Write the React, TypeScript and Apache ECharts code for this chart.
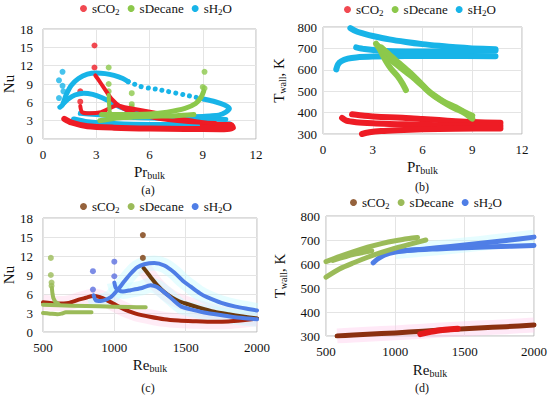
import React, { useEffect, useRef } from 'react';
import * as echarts from 'echarts';

const FONT = 'Liberation Serif';

// ---------- Panel (a): Nu vs Pr_bulk ----------
const aCO2Dots = [[2.9, 15.3], [2.9, 11.7], [2.1, 7.8], [2.1, 6.1]];
const aCO2Arm1 = [[2.95, 10.4], [3.1, 9.8], [3.47, 8.2], [3.85, 6.6], [4.4, 5.2], [5.17, 4.2], [6, 3.6], [7.05, 3.1], [8.2, 2.8], [9.7, 2.6]];
const aCO2Arm2 = [[2.1, 5.4], [2.2, 4.4], [2.6, 4.2], [3.28, 4.4], [3.8, 5.1], [4.13, 5.5], [4.6, 5.2], [5.55, 4.7], [7.05, 3.9], [8.2, 3.1], [8.9, 2.8], [9.7, 2.45]];
const aCO2Low = [[1.2, 3.3], [1.6, 2.7], [2.5, 2.1], [4, 1.85], [6, 1.7], [8, 1.65], [10, 1.6], [10.7, 1.8], [10.6, 2.3], [10, 2.35], [9, 2.4]];
const aDecDots = [[3.7, 11.7], [3.7, 9.0], [3.7, 7.8], [5.0, 7.5], [5.0, 5.7], [5.0, 5.2], [9.1, 11.0], [9.0, 8.5], [9.1, 8.3]];
const aDecArm = [[3.7, 7.2], [3.72, 5.8], [3.75, 4.6], [3.8, 4.0]];
const aDecBand1 = [[3.3, 4.0], [4.5, 4.0], [6, 4.1], [7, 4.4], [8, 5.0], [8.6, 5.8], [8.9, 6.8], [9.05, 7.8]];
const aDecBand2 = [[3.2, 3.0], [3.6, 3.2], [4.5, 3.5], [6, 3.7], [7.5, 3.8], [8.5, 4.0]];
const aH2ODots = [[1.1, 11.0], [0.9, 9.6], [1.1, 8.7], [1.15, 7.8], [0.9, 6.7]];
const aH2OUpper = [[0.95, 5.2], [1.1, 5.6], [1.3, 7.2], [1.6, 8.8], [2, 9.9], [2.5, 10.6], [3, 10.8], [3.5, 10.7], [4, 10.4], [4.5, 9.9], [4.8, 9.4]];
const aH2ODotted = [[4.8, 9.4], [5.5, 8.6], [6, 8.3], [6.5, 8.1], [7, 7.8], [7.5, 7.5], [8, 7.2], [8.5, 6.9], [9.1, 6.5]];
const aH2OLoop = [[9.1, 6.5], [9.7, 6.1], [10.2, 5.6], [10.5, 5.0], [10.3, 4.4], [9.9, 3.9], [9, 3.7], [8, 3.6], [7.4, 3.6]];
const aH2OSecond = [[1.15, 5.8], [1.4, 6.5], [1.8, 7.2], [2.3, 7.5], [2.8, 7.3], [3.3, 6.8], [3.8, 6.1], [4.3, 5.3], [5, 4.6], [6, 4.1], [7, 3.8], [8, 3.6], [9, 3.6], [9.8, 3.8]];
const aH2OBand1 = [[2.1, 4.2], [3, 4.0], [4, 3.8], [5.2, 3.5], [6.5, 3.4], [8, 3.3], [9.5, 3.3], [10.3, 3.2]];
const aH2OBand2 = [[1.74, 3.2], [2.5, 2.75], [4, 2.45], [6, 2.3], [8, 2.3], [10.5, 2.4]];

// ---------- Panel (b): T_wall vs Pr_bulk ----------
const bH2OTop = [[1.65, 795], [2, 780], [2.5, 768], [3, 758], [4, 742], [5, 730], [6, 720], [7, 712], [8, 705], [9, 700], [10.4, 696]];
const bH2OMid = [[2.0, 705], [2.5, 697], [3.5, 689], [5, 686], [7, 686], [9, 688], [10.4, 690]];
const bH2OLow = [[0.8, 602], [0.9, 625], [1.1, 640], [1.5, 652], [2, 658], [3, 662], [5, 665], [7, 665], [10.4, 663]];
const bDec1 = [[3.2, 722], [3.4, 700], [3.6, 670], [3.8, 640], [4.1, 605], [4.5, 570], [4.8, 535], [5.0, 505]];
const bDec2 = [[3.3, 712], [3.7, 680], [4.2, 640], [5, 590], [5.5, 560], [6, 525], [6.5, 490], [7, 462], [7.5, 438], [8, 418], [8.5, 400], [9, 372]];
const bDec3 = [[3.5, 705], [4, 670], [4.6, 630], [5.2, 590], [5.8, 545], [6.3, 505], [6.8, 475], [7.3, 450], [8, 425], [8.6, 400], [9, 385]];
const bCO2a = [[1.75, 392], [2.5, 385], [3, 382], [4, 378], [5, 375], [6, 370], [7, 365], [8, 360], [9, 356], [10.7, 352]];
const bCO2b = [[1.15, 375], [1.4, 362], [2, 355], [3, 350], [4, 347], [5, 345], [6, 343], [8, 340], [10.7, 338]];
const bCO2c = [[2.35, 300], [2.8, 308], [3.5, 314], [4.5, 318], [6, 322], [8, 325], [10.7, 326]];

// ---------- Panel (c): Nu vs Re_bulk ----------
const cCO2Dots = [[1200, 15.3], [1200, 11.7]];
const cCO2Arm = [[1205, 10.1], [1230, 9.4], [1260, 8.5], [1300, 7.4], [1350, 6.3], [1400, 5.5], [1450, 4.9], [1500, 4.5], [1600, 3.8], [1700, 3.2], [1800, 2.8], [1900, 2.45], [2000, 2.15]];
const cCO2Low = [[500, 4.7], [600, 4.5], [680, 4.6], [750, 5.1], [800, 5.4], [850, 5.7], [900, 5.5], [950, 5.0], [1000, 4.4], [1050, 3.8], [1100, 3.3], [1150, 2.9], [1250, 2.4], [1350, 2.0], [1450, 1.8], [1550, 1.7], [1700, 1.6], [1800, 1.65], [1900, 1.85], [2000, 2.1]];
const cDecDots = [[555, 11.7], [555, 9.0], [560, 7.8], [560, 7.3]];
const cDecArm = [[562, 7.0], [566, 6.1], [572, 5.4], [585, 4.8], [610, 4.4]];
const cDecBand = [[500, 4.3], [700, 4.15], [900, 4.05], [1100, 3.95], [1220, 3.9]];
const cDecLow = [[500, 3.0], [550, 2.9], [600, 2.8], [630, 2.9], [660, 3.1], [700, 3.1], [840, 3.1]];
const cH2ODots = [[850, 9.6], [850, 6.7], [1000, 11.1], [1000, 8.8]];
const cH2OUpper = [[855, 5.8], [870, 5.0], [905, 4.9], [975, 5.5], [1021, 6.6], [1070, 8.0], [1114, 9.2], [1160, 10.2], [1210, 10.7], [1280, 10.9], [1350, 10.5], [1420, 9.4], [1480, 8.1], [1533, 7.2], [1600, 6.1], [1650, 5.5], [1750, 4.6], [1850, 4.0], [1950, 3.6], [2000, 3.4]];
const cH2OLower = [[1000, 7.8], [1010, 7.0], [1030, 6.6], [1060, 6.4], [1114, 6.6], [1184, 6.9], [1254, 7.4], [1300, 7.1], [1370, 5.9], [1420, 4.9], [1470, 4.0], [1550, 3.5], [1650, 3.0], [1800, 2.5], [1900, 2.2], [2000, 2.0]];

// ---------- Panel (d): T_wall vs Re_bulk ----------
const dDecUpper = [[500, 610], [600, 632], [700, 652], [800, 670], [900, 685], [1000, 697], [1100, 706], [1160, 710]];
const dDecLower = [[500, 545], [600, 580], [700, 605], [800, 628], [900, 648], [1000, 666], [1100, 682], [1220, 700]];
const dDecMid = [[550, 615], [700, 640], [830, 655]];
const dH2OLower = [[840, 605], [870, 620], [920, 637], [1000, 650], [1100, 657], [1300, 663], [1500, 668], [1700, 672], [2000, 677]];
const dH2OUpper = [[1000, 652], [1200, 662], [1400, 673], [1600, 685], [1800, 698], [2000, 712]];
const dCO2 = [[580, 300], [800, 307], [1000, 313], [1200, 320], [1400, 327], [1600, 333], [1800, 339], [2000, 346]];
const dCO2Mid = [[1180, 308], [1300, 322], [1450, 330]];

// ---------- ticks / labels ----------
const prTicks = { min: 0, max: 12, interval: 3 };
const nuTicks = { min: 0, max: 18, interval: 3 };
const reTicks = { min: 500, max: 2000, interval: 500 };
const tTicks = { min: 300, max: 800, interval: 100 };
const captions = ['(a)', '(b)', '(c)', '(d)'];

const AB = { co2: '#ee1c25', dec: '#8cc84b', h2o: '#18b4e8' };
const CD = { co2: '#7b3b0b', co2line: '#a8260f', dec: '#9bbb59', h2o: '#4f7ee6' };

const LEG: Record<string, string> = {
  CO2ab: '{t|sCO}{s|2}', DECab: '{t|sDecane}', H2Oab: '{t|sH}{s|2}{t|O}',
  CO2cd: '{t|sCO}{s|2}', DECcd: '{t|sDecane}', H2Ocd: '{t|sH}{s|2}{t|O}',
};

const richText = (big: number, small: number, pad: number) => ({
  m: { fontFamily: FONT, fontSize: big, color: '#111' },
  t: { fontFamily: FONT, fontSize: big, color: '#111' },
  s: { fontFamily: FONT, fontSize: small, color: '#111', padding: [pad, 0, 0, 0] },
});

const line = (name: any, data: any, color: string, gi: number, width = 5, extra: any = {}) => ({
  type: 'line', name, data, xAxisIndex: gi, yAxisIndex: gi, smooth: 0.25, symbol: 'none', showSymbol: false,
  lineStyle: { color, width, cap: 'round', join: 'round' }, itemStyle: { color }, silent: true, ...extra,
});
const dots = (name: string, data: any, color: string, gi: number, size = 6) => ({
  type: 'scatter', name, data, xAxisIndex: gi, yAxisIndex: gi, symbol: 'circle', symbolSize: size,
  itemStyle: { color }, silent: true,
});
const halo = (data: any, color: string, gi: number) => line(undefined, data, color, gi, 15, { z: 1, lineStyle: { color, width: 15, cap: 'butt', join: 'round' } });

const mkX = (gi: number, t: any, nameStr: string, gap: number) => ({
  gridIndex: gi, type: 'value', ...t,
  name: nameStr, nameLocation: 'middle', nameGap: gap,
  nameTextStyle: { fontFamily: FONT, rich: richText(15, 10, 7) },
  axisLine: { show: false }, axisTick: { show: false },
  axisLabel: { fontFamily: FONT, fontSize: 13, color: '#111', margin: 9, formatter: (v: number) => String(v) },
  splitLine: { show: true, lineStyle: { color: '#e4e4e4', width: 1 } },
});
const mkY = (gi: number, t: any, nameStr: string, gap: number, margin: number) => ({
  gridIndex: gi, type: 'value', ...t,
  name: nameStr, nameLocation: 'middle', nameGap: gap,
  nameTextStyle: { fontFamily: FONT, rich: richText(15, 10, 7) },
  axisLine: { show: false }, axisTick: { show: false },
  axisLabel: { fontFamily: FONT, fontSize: 13, color: '#111', margin, formatter: (v: number) => String(v) },
  splitLine: { show: true, lineStyle: { color: '#e4e4e4', width: 1 } },
});

const mkLegend = (left: number, top: number, names: string[], colors: string[]) => ({
  left, top, orient: 'horizontal', itemWidth: 7, itemHeight: 7, itemGap: 8, padding: 0,
  data: names.map((n, i) => ({ name: n, icon: 'circle', itemStyle: { color: colors[i] } })),
  formatter: (n: string) => LEG[n] || n,
  textStyle: { fontFamily: FONT, fontSize: 13, color: '#111', rich: richText(13, 9, 6) },
  selectedMode: false,
});

export default function App() {
  const ref = useRef<HTMLDivElement>(null);
  useEffect(() => {
    if (!ref.current) return;
    const chart = echarts.init(ref.current, undefined, { renderer: 'svg' });
    const gridStyle = { show: true, borderColor: '#b8b8b8', borderWidth: 1, backgroundColor: 'transparent' };
    const option: any = {
      animation: false,
      backgroundColor: '#ffffff',
      textStyle: { fontFamily: FONT },
      grid: [
        { left: 42, top: 29, width: 214, height: 110, ...gridStyle },
        { left: 323, top: 27, width: 199, height: 107, ...gridStyle },
        { left: 42, top: 218, width: 215, height: 114, ...gridStyle },
        { left: 326, top: 216, width: 209, height: 120, ...gridStyle },
      ],
      xAxis: [
        mkX(0, prTicks, '{m|Pr}{s|bulk}', 24),
        mkX(1, prTicks, '{m|Pr}{s|bulk}', 24),
        mkX(2, reTicks, '{m|Re}{s|bulk}', 24),
        mkX(3, reTicks, '{m|Re}{s|bulk}', 25),
      ],
      yAxis: [
        mkY(0, nuTicks, '{m|Nu}', 27, 10),
        mkY(1, tTicks, '{m|T}{s|wall}{m|, K}', 36, 6),
        mkY(2, nuTicks, '{m|Nu}', 27, 10),
        mkY(3, tTicks, '{m|T}{s|wall}{m|, K}', 38, 6),
      ],
      legend: [
        mkLegend(80, 2, ['CO2ab', 'DECab', 'H2Oab'], [AB.co2, AB.dec, AB.h2o]),
        mkLegend(344, 3, ['CO2ab', 'DECab', 'H2Oab'], [AB.co2, AB.dec, AB.h2o]),
        mkLegend(80, 200, ['CO2cd', 'DECcd', 'H2Ocd'], [CD.co2, CD.dec, CD.h2o]),
        mkLegend(350, 196, ['CO2cd', 'DECcd', 'H2Ocd'], [CD.co2, CD.dec, CD.h2o]),
      ],
      series: [
        // (a)
        dots('CO2ab', aCO2Dots, AB.co2, 0),
        line('H2Oab', aH2OBand2, AB.h2o, 0, 6),
        line('CO2ab', aCO2Low, AB.co2, 0, 6),
        line('H2Oab', aH2OBand1, AB.h2o, 0, 5),
        line('H2Oab', aH2OSecond, AB.h2o, 0, 5),
        line('H2Oab', aH2OUpper, AB.h2o, 0, 5),
        line('H2Oab', aH2ODotted, AB.h2o, 0, 5, { lineStyle: { color: AB.h2o, width: 5, cap: 'round', type: [0.01, 7] } }),
        line('H2Oab', aH2OLoop, AB.h2o, 0, 5),
        dots('H2Oab', aH2ODots, AB.h2o, 0),
        line('CO2ab', aCO2Arm1, AB.co2, 0, 4),
        line('CO2ab', aCO2Arm2, AB.co2, 0, 4),
        line('DECab', aDecBand2, AB.dec, 0, 5),
        line('DECab', aDecBand1, AB.dec, 0, 5),
        line('DECab', aDecArm, AB.dec, 0, 4, { smooth: false }),
        dots('DECab', aDecDots, AB.dec, 0),
        // (b)
        line('H2Oab', bH2OTop, AB.h2o, 1, 6),
        line('H2Oab', bH2OMid, AB.h2o, 1, 6),
        line('H2Oab', bH2OLow, AB.h2o, 1, 6),
        line('CO2ab', bCO2a, AB.co2, 1, 6),
        line('CO2ab', bCO2b, AB.co2, 1, 6),
        line('CO2ab', bCO2c, AB.co2, 1, 6),
        line('DECab', bDec1, AB.dec, 1, 6),
        line('DECab', bDec2, AB.dec, 1, 6),
        line('DECab', bDec3, AB.dec, 1, 6),
        // (c)
        halo(cCO2Low, 'rgba(255,200,230,0.35)', 2),
        halo(cCO2Arm, 'rgba(255,200,230,0.35)', 2),
        halo(cH2OUpper, 'rgba(200,250,255,0.45)', 2),
        halo(cH2OLower, 'rgba(200,250,255,0.45)', 2),
        dots('CO2cd', cCO2Dots, CD.co2, 2),
        line('CO2cd', cCO2Low, CD.co2line, 2, 4),
        line('CO2cd', cCO2Arm, '#6a3a0c', 2, 4),
        line('H2Ocd', cH2OLower, CD.h2o, 2, 4),
        line('H2Ocd', cH2OUpper, CD.h2o, 2, 4),
        dots('H2Ocd', cH2ODots, '#5b6fe0', 2),
        line('DECcd', cDecLow, CD.dec, 2, 4),
        line('DECcd', cDecBand, CD.dec, 2, 4),
        line('DECcd', cDecArm, CD.dec, 2, 4, { smooth: false }),
        dots('DECcd', cDecDots, CD.dec, 2),
        // (d)
        halo(dCO2, 'rgba(255,200,235,0.4)', 3),
        halo(dH2OUpper, 'rgba(200,250,255,0.45)', 3),
        line('CO2cd', dCO2, '#8b3010', 3, 5),
        line('CO2cd', dCO2Mid, '#e5191c', 3, 6),
        line('H2Ocd', dH2OLower, CD.h2o, 3, 5),
        line('H2Ocd', dH2OUpper, CD.h2o, 3, 5),
        line('DECcd', dDecLower, CD.dec, 3, 5),
        line('DECcd', dDecUpper, CD.dec, 3, 5),
        line('DECcd', dDecMid, CD.dec, 3, 5),
      ],
      graphic: [
        { type: 'text', x: 148, y: 190, style: { text: captions[0], font: `12px ${FONT}`, fill: '#111', align: 'center', verticalAlign: 'middle' } },
        { type: 'text', x: 422, y: 187, style: { text: captions[1], font: `12px ${FONT}`, fill: '#111', align: 'center', verticalAlign: 'middle' } },
        { type: 'text', x: 148, y: 388, style: { text: captions[2], font: `12px ${FONT}`, fill: '#111', align: 'center', verticalAlign: 'middle' } },
        { type: 'text', x: 422, y: 388, style: { text: captions[3], font: `12px ${FONT}`, fill: '#111', align: 'center', verticalAlign: 'middle' } },
      ],
    };
    chart.setOption(option);
    return () => chart.dispose();
  }, []);
  return <div ref={ref} style={{ position: 'fixed', left: 0, top: 0, width: 550, height: 399, background: '#fff' }} />;
}
